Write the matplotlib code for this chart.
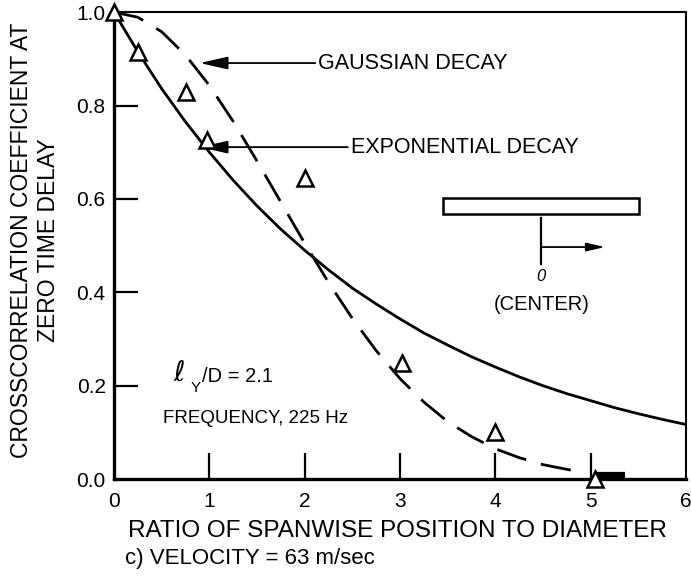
import numpy as np
from matplotlib import pyplot as plt
from matplotlib.patches import Rectangle

plt.rcParams['font.family'] = ['Liberation Sans', 'DejaVu Sans']
plt.rcParams['mathtext.fontset'] = 'dejavusans'

# measured crosscorrelation coefficients
x_medido = [0.0, 0.25, 0.75, 0.97, 2.0, 3.02, 4.0, 5.04]
r_medido = [1.0, 0.914, 0.829, 0.726, 0.645, 0.248, 0.10, 0.0]

# exponential decay curve
x_exp = [0.0, 0.25, 0.5, 0.75, 1.0, 1.25, 1.5, 1.75, 2.0, 2.25, 2.5, 2.75, 3.0,
         3.25, 3.5, 3.75, 4.0, 4.25, 4.5, 4.75, 5.0, 5.25, 5.5, 5.75, 6.0]
r_exp = [1.000, 0.915, 0.836, 0.765, 0.700, 0.640, 0.585, 0.535, 0.490, 0.448,
         0.409, 0.375, 0.343, 0.313, 0.287, 0.262, 0.240, 0.219, 0.200, 0.183,
         0.168, 0.153, 0.140, 0.128, 0.117]

# gaussian decay curve
x_gauss = [0.0, 0.25, 0.5, 0.75, 1.0, 1.25, 1.5, 1.75, 2.0, 2.25, 2.5, 2.75,
           3.0, 3.25, 3.5, 3.75, 4.0, 4.25, 4.5, 4.75, 4.85]
r_gauss = [1.000, 0.989, 0.958, 0.908, 0.843, 0.766, 0.681, 0.593, 0.505, 0.421,
           0.344, 0.275, 0.215, 0.165, 0.123, 0.091, 0.065, 0.046, 0.031, 0.021,
           0.017]

# heavy trace along the axis past x = 5
x_cola = [5.07, 5.36]
r_cola = [0.008, 0.008]

xticks = [0, 1, 2, 3, 4, 5, 6]
yticks = [0.0, 0.2, 0.4, 0.6, 0.8, 1.0]
ytick_labels = ['0.0', '0.2', '0.4', '0.6', '0.8', '1.0']

fig = plt.figure(figsize=(6.91, 5.78), dpi=100)
ax = fig.add_axes([0.165, 0.171, 0.828, 0.808])

ax.plot(x_exp, r_exp, color='black', lw=2.0)
ax.plot(x_gauss, r_gauss, color='black', lw=2.0, dashes=(11, 5.5))
ax.plot(x_cola, r_cola, color='black', lw=4.5, solid_capstyle='butt')
ax.plot(x_medido, r_medido, linestyle='none', marker='^', markersize=11,
        markerfacecolor='white', markeredgecolor='black', markeredgewidth=1.8,
        clip_on=False, zorder=5)

ax.set_xlim(0, 6)
ax.set_ylim(0, 1.0)

ax.set_xticks(xticks)
ax.set_yticks(yticks)
ax.set_yticklabels(ytick_labels)
ax.tick_params(axis='x', direction='in', length=19, width=1.6, labelsize=15, pad=9)
ax.tick_params(axis='y', direction='in', length=17, width=1.6, labelsize=15, pad=6)
for t in ax.xaxis.get_major_ticks()[::6]:
    t.tick1line.set_visible(False)
for t in ax.yaxis.get_major_ticks()[::5]:
    t.tick1line.set_visible(False)

for lado in ['left', 'bottom']:
    ax.spines[lado].set_linewidth(2.4)
for lado in ['top', 'right']:
    ax.spines[lado].set_linewidth(1.5)

fig.text(0.5745, 0.0813, 'RATIO OF SPANWISE POSITION TO DIAMETER', fontsize=17.5,
         ha='center', va='center')
fig.text(0.051, 0.585, 'CROSSCORRELATION COEFFICIENT AT\nZERO TIME DELAY',
         fontsize=16.5, rotation=90, ha='center', va='center', linespacing=1.25)
fig.text(0.181, 0.0346, 'c) VELOCITY = 63 m/sec', fontsize=16, ha='left', va='center')

flecha = dict(arrowstyle='-|>,head_length=1.1,head_width=0.25', color='black',
              lw=1.3, shrinkA=0, shrinkB=0)
ax.annotate('GAUSSIAN DECAY', xy=(0.90, 0.891), xytext=(2.14, 0.891),
            fontsize=15.5, va='center', ha='left', arrowprops=flecha)
ax.annotate('EXPONENTIAL DECAY', xy=(0.90, 0.711), xytext=(2.48, 0.711),
            fontsize=15.5, va='center', ha='left', arrowprops=flecha)

# cylinder sketch with the centre marker
ax.add_patch(Rectangle((3.45, 0.567), 2.06, 0.035, facecolor='white',
                       edgecolor='black', lw=1.8))
ax.plot([4.48, 4.48], [0.46, 0.559], color='black', lw=1.6)
ax.annotate('', xy=(5.15, 0.497), xytext=(4.48, 0.497), arrowprops=flecha)
ax.text(4.48, 0.433, '0', fontsize=12, ha='center', va='center', style='italic')
ax.text(4.48, 0.375, '(CENTER)', fontsize=14.5, ha='center', va='center')

# integral length scale note
ax.text(0.68, 0.225, r'$\ell$', fontsize=20, ha='center', va='center')
ax.text(0.86, 0.195, 'Y', fontsize=11, ha='center', va='center')
ax.text(0.92, 0.22, '/D = 2.1', fontsize=14.5, ha='left', va='center')
ax.text(0.51, 0.13, 'FREQUENCY, 225 Hz', fontsize=13.5, ha='left', va='center')

fig.savefig('out.png', dpi=100)
